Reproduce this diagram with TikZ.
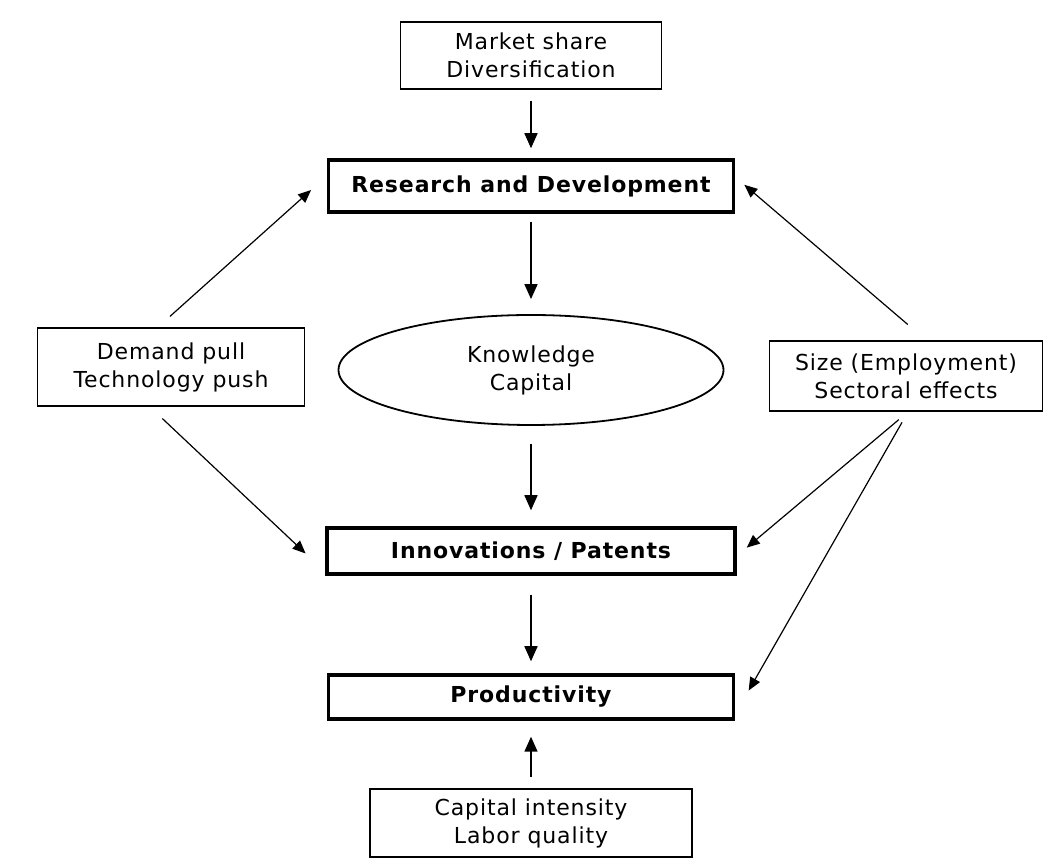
\documentclass[tikz,border=0pt]{standalone}
\usepackage{fontspec}
\setmainfont{DejaVu Sans}[LetterSpace=4]
\usetikzlibrary{shapes.geometric,arrows.meta}

\begin{document}
\begin{tikzpicture}[x=1pt,y=1pt,
  font=\fontsize{22}{28}\selectfont,
  thinbox/.style={draw,line width=1.8pt,align=center,inner sep=0pt},
  thickbox/.style={draw,line width=3.5pt,align=center,inner sep=0pt,
    font=\fontsize{22}{28}\selectfont\bfseries},
  flow/.style={line width=1.6pt,-{Triangle[length=15pt,width=13pt]},
    shorten <=12pt,shorten >=12pt},
  link/.style={line width=1.2pt,-{Triangle[length=13pt,width=11pt]}}]
\path[use as bounding box,fill=white] (0,0) rectangle (1061,865);

\node[thinbox,minimum width=261pt,minimum height=67pt] (market) at (531,809.5)
  {Market share\\Diversification};
\node[thickbox,minimum width=405pt,minimum height=52pt] (rd) at (531,679)
  {Research and Development};
\node[ellipse,draw,line width=1.8pt,align=center,inner sep=0pt,
  minimum width=385pt,minimum height=110pt] (kc) at (531,495)
  {Knowledge\\Capital};
\node[thickbox,minimum width=408pt,minimum height=46pt] (innov) at (531,314)
  {Innovations / Patents};
\node[thickbox,minimum width=405pt,minimum height=44pt] (prod) at (531,168)
  {Productivity};
\node[thinbox,minimum width=322pt,minimum height=68pt] (capital) at (531,42)
  {Capital intensity\\Labor quality};
\node[thinbox,minimum width=267pt,minimum height=78pt] (demand) at (171,498)
  {Demand pull\\Technology push};
\node[thinbox,minimum width=273pt,minimum height=70pt] (size) at (906,489)
  {Size (Employment)\\Sectoral effects};

\draw[flow,shorten <=11pt,shorten >=10pt] (market) -- (rd);
\draw[flow,shorten <=8pt,shorten >=15pt] (rd) -- (kc);
\draw[flow,shorten <=18pt,shorten >=16pt] (kc) -- (innov);
\draw[flow,shorten <=19pt,shorten >=12pt] (innov) -- (prod);
\draw[flow,shorten <=11pt,shorten >=16pt] (capital) -- (prod);

\draw[link,shorten <=16pt,shorten >=21pt] ([xshift=-13pt]demand.north) -- ([yshift=10pt]rd.west);
\draw[link,shorten <=17pt,shorten >=27pt] ([xshift=-21pt]demand.south) -- ([yshift=-21pt]innov.west);
\draw[link,shorten <=24pt,shorten >=12pt] ([xshift=20pt]size.north) -- ([yshift=9pt]rd.east);
\draw[link,shorten <=12pt,shorten >=13pt] ([xshift=2pt]size.south) -- ([yshift=-5pt]innov.east);
\draw[link,shorten <=12pt,shorten >=27pt] ([xshift=2pt]size.south) -- ([yshift=-17pt]prod.east);
\end{tikzpicture}
\end{document}
